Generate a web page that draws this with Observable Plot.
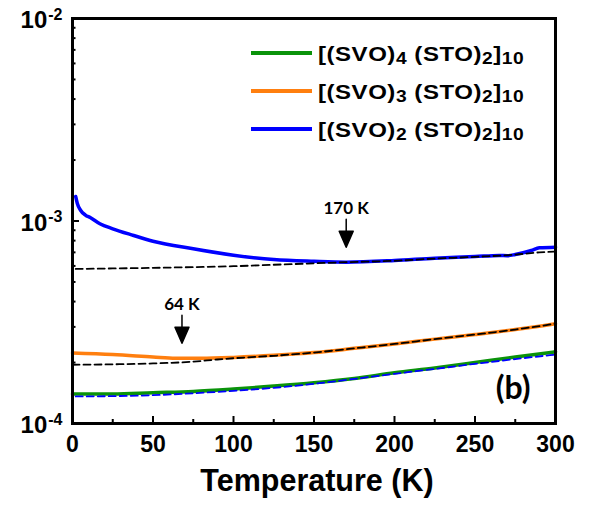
<!DOCTYPE html>
<html><head><meta charset="utf-8">
<script src="https://cdn.jsdelivr.net/npm/d3@7"></script>
<script src="https://cdn.jsdelivr.net/npm/@observablehq/plot@0.6"></script>
<style>
body{margin:0;background:#fff;}
#wrap{position:relative;width:594px;height:509px;}
.legend{position:absolute;left:0;top:0;font-family:"Liberation Sans",Arial,sans-serif;font-weight:bold;font-size:20px;line-height:20px;color:#000;}
.sw{position:absolute;left:251px;width:61px;height:4px;}
.lt{position:absolute;left:318px;white-space:nowrap;transform:scaleX(1.2);transform-origin:0 0;letter-spacing:0.45px;}
.sub{font-size:16px;position:relative;top:3px;}
</style></head><body><div id="wrap"></div>
<script>
// ---- data ----
const T_svo2 = [2,3,5,8,11,17,25,38,50,75,100,125,150,170,200,225,250,265,270,275,285,290,300];
const R_svo2 = [1.32e-3,1.22e-3,1.13e-3,1.07e-3,1.04e-3,9.7e-4,9.15e-4,8.48e-4,7.94e-4,7.29e-4,6.78e-4,6.45e-4,6.32e-4,6.26e-4,6.38e-4,6.55e-4,6.67e-4,6.76e-4,6.74e-4,6.83e-4,7.15e-4,7.37e-4,7.43e-4];
const T_svo2_fit = [2,25,50,75,100,125,150,170,200,225,250,275,290,300];
const R_svo2_fit = [5.8e-4,5.83e-4,5.87e-4,5.92e-4,5.98e-4,6.08e-4,6.18e-4,6.26e-4,6.36e-4,6.52e-4,6.65e-4,6.82e-4,7.0e-4,7.06e-4];

const T_svo3 = [0,25,50,64,80,100,125,150,175,200,225,250,275,300];
const R_svo3 = [2.23e-4,2.19e-4,2.13e-4,2.10e-4,2.10e-4,2.12e-4,2.17e-4,2.24e-4,2.35e-4,2.47e-4,2.61e-4,2.75e-4,2.91e-4,3.11e-4];
const T_svo3_fit = [0,25,50,75,90,100,125,150,175,200,225,250,275,300];
const R_svo3_fit = [1.95e-4,1.96e-4,1.98e-4,2.02e-4,2.07e-4,2.10e-4,2.16e-4,2.24e-4,2.35e-4,2.47e-4,2.61e-4,2.75e-4,2.91e-4,3.11e-4];

const T_svo4 = [0,25,50,75,100,125,150,175,200,225,250,275,300];
const R_svo4 = [1.40e-4,1.40e-4,1.42e-4,1.44e-4,1.48e-4,1.53e-4,1.59e-4,1.67e-4,1.78e-4,1.88e-4,2.0e-4,2.13e-4,2.26e-4];
const T_svo4_fit = [2,25,50,75,100,125,150,175,200,225,250,275,300];
const R_svo4_fit = [1.36e-4,1.365e-4,1.38e-4,1.41e-4,1.45e-4,1.50e-4,1.57e-4,1.66e-4,1.76e-4,1.86e-4,1.97e-4,2.08e-4,2.19e-4];

const annT = [170, 68];
const annR = [6.26e-4, 2.10e-4];
const annLabel = ["170 K", "64 K"];

const xMajor = [0,50,100,150,200,250,300];
const xMinor = [25,75,125,175,225,275];
const yMajor = [1e-4,1e-3,1e-2];
const yMinor = [2e-4,3e-4,4e-4,5e-4,6e-4,7e-4,8e-4,9e-4,2e-3,3e-3,4e-3,5e-3,6e-3,7e-3,8e-3,9e-3];

const legendLabels = [["[(SVO)","4"," (STO)","2","]","10"],["[(SVO)","3"," (STO)","2","]","10"],["[(SVO)","2"," (STO)","2","]","10"]];
const colGreen = "#0a930a", colOrange = "#ff7f0f", colBlue = "#0000ff";
const legendColors = [colGreen, colOrange, colBlue];

// ---- chart ----
const zip = (T, R) => T.map((t, i) => ({T: t, R: R[i]}));
const arrowShape = {draw(ctx, l) { ctx.moveTo(0,0); ctx.lineTo(0,-l+16); ctx.moveTo(-7,-l+16); ctx.lineTo(7,-l+16); ctx.lineTo(0,-l); ctx.closePath(); }};
const ann = annT.map((t,i)=>({T:t, R:annR[i], label:annLabel[i]}));
const boldFont = "Liberation Sans, Arial, sans-serif";
const dash = "7,4";

const chart = Plot.plot({
  width: 594, height: 509,
  marginLeft: 72, marginRight: 39, marginTop: 18, marginBottom: 86,
  x: {domain: [0, 300]},
  y: {type: "log", domain: [1e-4, 1e-2]},
  style: {fontFamily: boldFont, background: "white", color: "black"},
  marks: [
    Plot.line(zip(T_svo4, R_svo4), {x: "T", y: "R", stroke: colGreen, strokeWidth: 3.5, curve: "monotone-x"}),
    Plot.line(zip(T_svo4_fit, R_svo4_fit), {x: "T", y: "R", stroke: colBlue, strokeWidth: 1.8, strokeDasharray: dash, curve: "monotone-x"}),
    Plot.line(zip(T_svo3, R_svo3), {x: "T", y: "R", stroke: colOrange, strokeWidth: 3.5, curve: "monotone-x"}),
    Plot.line(zip(T_svo3_fit, R_svo3_fit), {x: "T", y: "R", stroke: "black", strokeWidth: 1.8, strokeDasharray: dash, curve: "monotone-x"}),
    Plot.line(zip(T_svo2, R_svo2), {x: "T", y: "R", stroke: colBlue, strokeWidth: 3.5, curve: "monotone-x"}),
    Plot.line(zip(T_svo2_fit, R_svo2_fit), {x: "T", y: "R", stroke: "black", strokeWidth: 1.8, strokeDasharray: dash, curve: "monotone-x"}),
    Plot.vector(ann, {x: "T", y: "R", anchor: "end", rotate: 180, length: 28, dy: -15, shape: arrowShape, stroke: "black", fill: "black", strokeWidth: 1.5}),
    Plot.text(ann, {x: "T", y: "R", text: "label", dy: -54, fontSize: 17, fontWeight: "bold", fontFamily: "Lato"}),
    Plot.text(["(b)"], {frameAnchor: "bottom-right", dx: -25, dy: -25, textAnchor: "end", fontSize: 32, fontWeight: "bold", fontFamily: "Lato"}),
    Plot.frame({stroke: "black", strokeWidth: 3}),
    Plot.axisX({ticks: xMajor, tickSize: -7, strokeWidth: 2, fill: "none", label: null}),
    Plot.axisX({ticks: xMinor, tickSize: -4, strokeWidth: 2, fill: "none", label: null}),
    Plot.axisX({ticks: xMajor, tickSize: 0, tickPadding: 12, fontSize: 23, fontWeight: "bold", label: null, tickFormat: d => String(d)}),
    Plot.axisY({ticks: yMajor, tickSize: -7, strokeWidth: 2, fill: "none", label: null}),
    Plot.axisY({ticks: yMinor, tickSize: -3.5, strokeWidth: 2, fill: "none", label: null}),
    Plot.axisY({ticks: yMajor, tickSize: 0, tickPadding: 10, dy: 2, fontSize: 24, fontWeight: "bold", label: null, tickFormat: d => "10^" + Math.round(Math.log10(d))}),
    Plot.text(["Temperature (K)"], {frameAnchor: "bottom", dx: 3, dy: 67, fontSize: 30.5, fontWeight: "bold"})
  ]
});

// superscripts on y tick labels
chart.querySelectorAll('g[aria-label="y-axis tick label"] text').forEach(t => {
  const [base, exp] = t.textContent.split("^");
  t.textContent = "";
  const ns = "http://www.w3.org/2000/svg";
  const a = document.createElementNS(ns, "tspan"); a.textContent = base;
  const b = document.createElementNS(ns, "tspan"); b.textContent = exp;
  b.setAttribute("dy", "-8.5"); b.setAttribute("dx", "1"); b.setAttribute("font-size", "16");
  t.appendChild(a); t.appendChild(b);
});

const wrap = document.getElementById("wrap");
wrap.appendChild(chart);

// legend (inside frame, top right)
const lg = document.createElement("div");
lg.className = "legend";
const rowY = [52.8, 90.7, 128.5];
legendLabels.forEach((parts, i) => {
  const sw = document.createElement("div");
  sw.className = "sw"; sw.style.background = legendColors[i];
  sw.style.top = (rowY[i] - 2) + "px";
  lg.appendChild(sw);
  const txt = document.createElement("div");
  txt.className = "lt";
  txt.style.top = (rowY[i] - 8.5) + "px";
  parts.forEach((p, j) => {
    const s = document.createElement("span");
    s.textContent = p;
    if (j % 2 === 1) s.className = "sub";
    txt.appendChild(s);
  });
  lg.appendChild(txt);
});
wrap.appendChild(lg);
</script></body></html>
